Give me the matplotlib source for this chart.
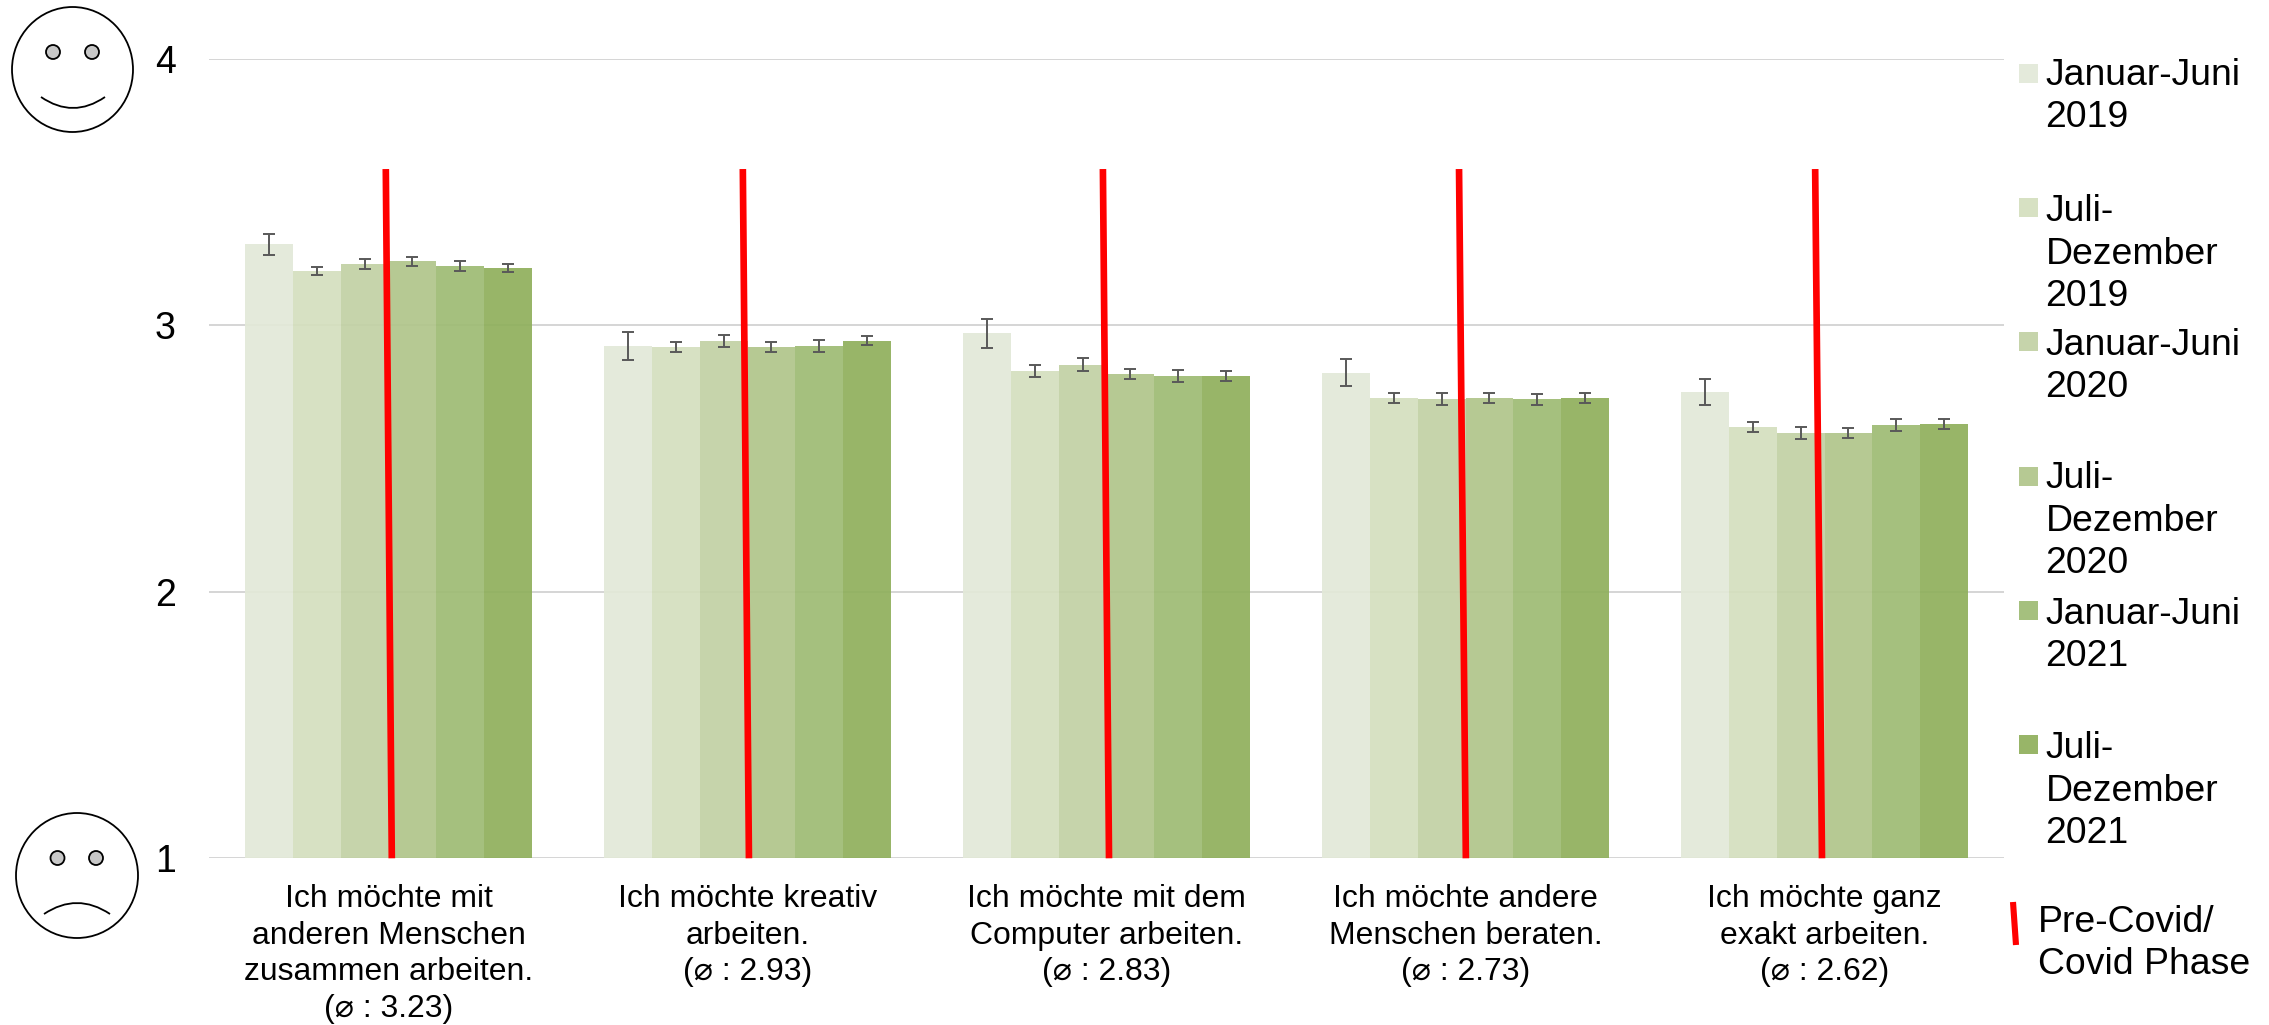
import numpy as np
from matplotlib import pyplot as plt
from matplotlib.patches import Ellipse, PathPatch, Rectangle
from matplotlib.path import Path

plt.rcParams['font.family'] = ['Liberation Sans', 'DejaVu Sans']

categories = ["Ich möchte mit\nanderen Menschen\nzusammen arbeiten.\n(⌀ : 3.23)",
              "Ich möchte kreativ\narbeiten.\n(⌀ : 2.93)",
              "Ich möchte mit dem\nComputer arbeiten.\n(⌀ : 2.83)",
              "Ich möchte andere\nMenschen beraten.\n(⌀ : 2.73)",
              "Ich möchte ganz\nexakt arbeiten.\n(⌀ : 2.62)"]

periods = ["Januar-Juni\n2019", "Juli-\nDezember\n2019", "Januar-Juni\n2020",
           "Juli-\nDezember\n2020", "Januar-Juni\n2021", "Juli-\nDezember\n2021"]

jan_jun_2019 = [3.305, 2.923, 2.971, 2.823, 2.750]
jul_dez_2019 = [3.205, 2.919, 2.829, 2.729, 2.618]
jan_jun_2020 = [3.230, 2.942, 2.852, 2.723, 2.597]
jul_dez_2020 = [3.240, 2.920, 2.819, 2.728, 2.597]
jan_jun_2021 = [3.222, 2.923, 2.809, 2.723, 2.625]
jul_dez_2021 = [3.215, 2.943, 2.810, 2.728, 2.630]

err_jan_jun_2019 = [0.040, 0.051, 0.055, 0.051, 0.050]
err_jul_dez_2019 = [0.016, 0.019, 0.021, 0.019, 0.019]
err_jan_jun_2020 = [0.019, 0.022, 0.024, 0.023, 0.022]
err_jul_dez_2020 = [0.016, 0.018, 0.019, 0.019, 0.018]
err_jan_jun_2021 = [0.018, 0.022, 0.022, 0.021, 0.022]
err_jul_dez_2021 = [0.014, 0.018, 0.019, 0.019, 0.018]

# red pre-covid / covid separators, in category units
covid_x_top = [-0.0075, 0.987, 1.990, 2.982, 3.974]
covid_x_bottom = [0.0092, 1.004, 2.007, 3.001, 3.993]
covid_y_top = 3.587

series = [jan_jun_2019, jul_dez_2019, jan_jun_2020, jul_dez_2020, jan_jun_2021, jul_dez_2021]
errors = [err_jan_jun_2019, err_jul_dez_2019, err_jan_jun_2020,
          err_jul_dez_2020, err_jan_jun_2021, err_jul_dez_2021]
colors = ['#E2E9D8', '#D4DFBE', '#C2D1A4', '#B0C58A', '#9EBB73', '#8FAF5B']
bar_alpha = 0.92

W, H = 2269, 1025
fig = plt.figure(figsize=(W / 100, H / 100), dpi=100)
ax = fig.add_axes([209 / W, (H - 858.3) / H, 1795 / W, 799.3 / H])

x = np.arange(len(categories))
bar_w = 0.1337
for i in range(len(series)):
    pos = x + (i - 2.5) * bar_w
    ax.bar(pos, series[i], bar_w, color=colors[i], alpha=bar_alpha, linewidth=0, zorder=2)
    ax.errorbar(pos, series[i], yerr=errors[i], fmt='none', ecolor='#595959',
                elinewidth=1.4, capsize=4.6, capthick=1.4, zorder=3)

for i in range(len(categories)):
    ax.plot([covid_x_top[i], covid_x_bottom[i]], [covid_y_top, 1], color='#ff0000', lw=4.8,
            solid_capstyle='butt', zorder=4, clip_on=False)

ax.set_xlim(-0.5, 4.5)
ax.set_ylim(1, 4)
ax.set_yticks([1, 2, 3, 4])
ax.set_xticks(x)
ax.set_xticklabels(categories, fontsize=22.95, linespacing=1.29, color='black')
ax.tick_params(axis='x', length=0, pad=18.5)
ax.tick_params(axis='y', length=0, pad=24, labelsize=27)
ax.grid(axis='y', color='#d2d2d2', lw=1.3, zorder=1)
ax.set_axisbelow(True)
for s in ax.spines.values():
    s.set_visible(False)

# overlay in image pixels for the legend and the two faces
over = fig.add_axes([0, 0, 1, 1], facecolor='none')
over.set_xlim(0, W)
over.set_ylim(H, 0)
over.axis('off')

swatch_top = [64, 198, 332, 467, 601, 735]
text_bottom = [127, 306, 397, 573, 666, 843]
for i in range(len(periods)):
    over.add_patch(Rectangle((2019, swatch_top[i]), 19, 19, facecolor=colors[i],
                             alpha=bar_alpha, linewidth=0))
    over.text(2045.5, text_bottom[i], periods[i], fontsize=26.95, linespacing=1.27,
              ha='left', va='baseline')

over.plot([2013, 2016], [902, 945], color='#ff0000', lw=4.4, solid_capstyle='butt')
over.text(2037.5, 974, "Pre-Covid/\nCovid Phase", fontsize=26.95, linespacing=1.27,
          ha='left', va='baseline')


def draw_face(cx, cy, w, h, eye_xs, eye_y, mouth):
    over.add_patch(Ellipse((cx, cy), w, h, facecolor='white', edgecolor='black', lw=1.3))
    for ex in eye_xs:
        over.add_patch(Ellipse((ex, eye_y), 14, 14, facecolor='#c8c8c8', edgecolor='black', lw=1.3))
    over.add_patch(PathPatch(Path(mouth, [Path.MOVETO, Path.CURVE3, Path.CURVE3]),
                             facecolor='none', edgecolor='black', lw=1.3))


draw_face(72.5, 69.5, 121, 125, [53, 92], 52, [(41, 97), (73, 119), (105, 97)])
draw_face(77, 875.5, 122, 125, [57.5, 96], 858, [(44, 914), (77, 892), (110, 914)])

fig.savefig('out.png', dpi=100)
